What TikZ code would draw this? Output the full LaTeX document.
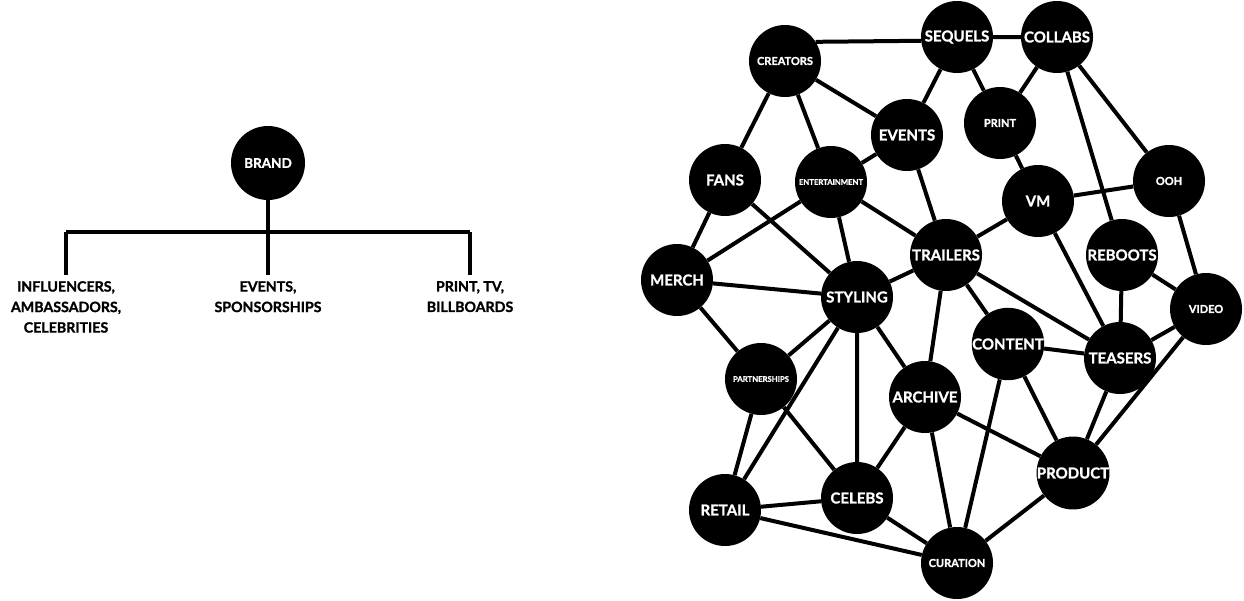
\documentclass[tikz,border=0pt]{standalone}
\usepackage{fontspec}
\setmainfont{Lato}[BoldFeatures={FakeBold=1.2}]

\begin{document}
\begin{tikzpicture}[x=1pt,y=-1pt,
    sz/.style={font=\bfseries\fontsize{#1}{#1}\selectfont},
    dot/.style={circle,fill=black,text=white,inner sep=0pt,minimum size=72pt},
    edge/.style={line width=4pt},
    branch/.style={align=center,inner sep=0pt,inner ysep=6pt,anchor=north,
      font=\bfseries\fontsize{14.2}{20.5}\selectfont}]

      \useasboundingbox (0,0) rectangle (1244,600);

      % tree
      \node[dot,minimum size=74pt,sz=13.5] (brand) at (268,163) {BRAND};
      \path (268,232) coordinate (hub) (66,232) coordinate (lft) (470,232) coordinate (rgt);
      \node[branch] (infl) at (66,275) {INFLUENCERS,\\AMBASSADORS,\\CELEBRITIES};
      \node[branch] (spons) at (268,275) {EVENTS,\\SPONSORSHIPS};
      \node[branch] (bill) at (470,275) {PRINT, TV,\\BILLBOARDS};
      \draw[edge] (brand) to (hub);
      \draw[edge] (lft) to (rgt);
      \draw[edge] (lft) to (infl);
      \draw[edge] (hub) to (spons);
      \draw[edge] (rgt) to (bill);

      % network, top row
      \node[dot,sz=11] (creators) at (785,61) {CREATORS};
      \node[dot,sz=15] (sequels) at (957,37) {SEQUELS};
      \node[dot,sz=15] (collabs) at (1057,37) {COLLABS};
      \node[dot,sz=15] (events) at (907,135) {EVENTS};
      \node[dot,sz=11] (print) at (1000,123) {PRINT};
      \node[dot,sz=15] (fans) at (725,180) {FANS};
      \node[dot,sz=7.7] (entertainment) at (831,182) {ENTERTAINMENT};
      \node[dot,sz=11] (ooh) at (1169,181) {OOH};
      \node[dot,sz=15] (vm) at (1038,201) {VM};

      % network, middle
      \node[dot,sz=15] (trailers) at (946,255) {TRAILERS};
      \node[dot,sz=15] (reboots) at (1122,255) {REBOOTS};
      \node[dot,sz=15] (merch) at (677,280) {MERCH};
      \node[dot,sz=15] (styling) at (857,297) {STYLING};
      \node[dot,sz=11] (video) at (1206,309) {VIDEO};
      \node[dot,sz=15] (content) at (1008,344) {CONTENT};
      \node[dot,sz=15] (teasers) at (1120,358) {TEASERS};
      \node[dot,sz=7.7] (partnerships) at (761,379) {PARTNERSHIPS};
      \node[dot,sz=15] (archive) at (925,397) {ARCHIVE};

      % network, bottom row
      \node[dot,sz=15] (product) at (1073,473) {PRODUCT};
      \node[dot,sz=15] (retail) at (725,510) {RETAIL};
      \node[dot,sz=15] (celebs) at (857,498) {CELEBS};
      \node[dot,sz=11] (curation) at (957,563) {CURATION};

      % links
      \draw[edge] (creators.32) to (sequels.186);
      \draw[edge] (sequels) to (collabs) to (ooh) to (video) to (product)
        to (curation) to (retail) to (partnerships) to (merch) to (fans) to (creators);
      \draw[edge] (creators) to (events) to (sequels) to (print) to (collabs) to (reboots)
        to (video) to (teasers) to (reboots);
      \draw[edge] (print) to (vm) to (ooh);
      \draw[edge] (trailers) to (vm) to (teasers);
      \draw[edge] (creators) to (entertainment) to (events) to (trailers) to (entertainment)
        to (merch) to (styling) to (fans);
      \draw[edge] (entertainment) to (styling) to (trailers) to (archive) to (styling)
        to (partnerships) to (celebs) to (styling) to (retail) to (celebs) to (curation)
        to (archive) to (celebs);
      \draw[edge] (trailers) to (content) to (teasers) to (trailers);
      \draw[edge] (content) to (product) to (teasers);
      \draw[edge] (content) to (curation);
      \draw[edge] (archive) to (product);

    \end{tikzpicture}
\end{document}
